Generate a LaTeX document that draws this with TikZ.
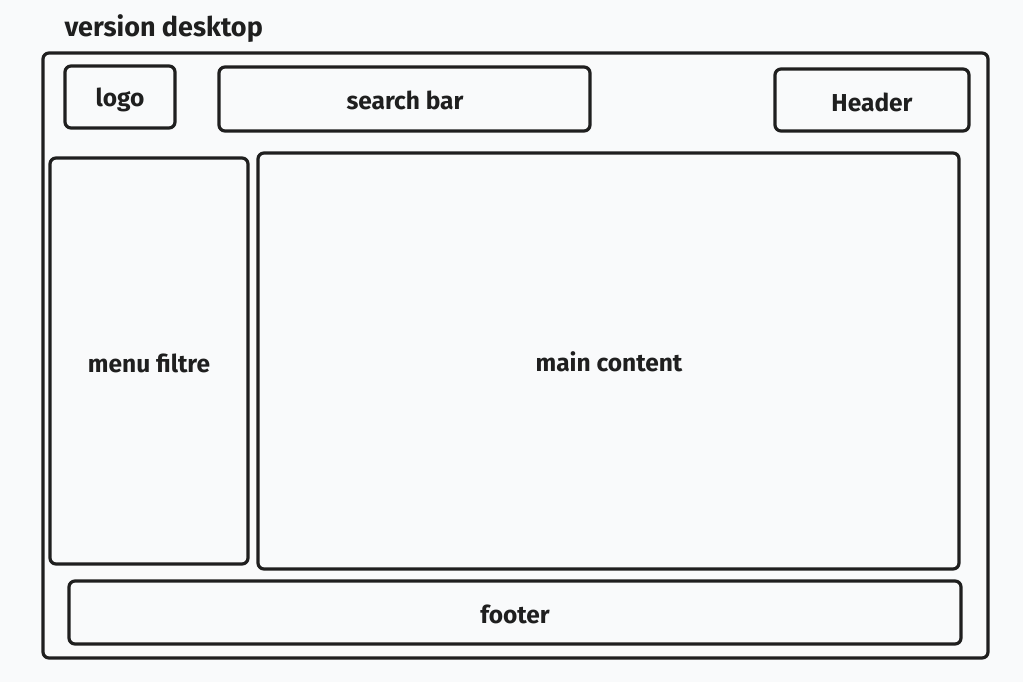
\documentclass[tikz,border=0pt]{standalone}
\usepackage{fontspec}
\setmainfont{Fira Sans}
\begin{document}
\begin{tikzpicture}[x=1pt,y=-1pt,
  frame/.style={draw=black!88,line width=3.2pt,rounded corners=6pt},
  lbl/.style={font=\fontsize{24.5}{28}\selectfont\bfseries, text=black!88}]
\useasboundingbox[fill={rgb,255:red,249;green,250;blue,251}] (0,0) rectangle (1023,682);
\node[lbl,anchor=west,font=\fontsize{27}{30}\selectfont\bfseries] (title) at (61,29) {version desktop};
\draw[frame] (43,53) rectangle (988,658);
\draw[frame] (65,66) rectangle (175,128);
\node[lbl] (logo) at (120,100) {logo};
\draw[frame] (219,67) rectangle (590,131);
\node[lbl] (search) at (405,100) {search bar};
\draw[frame] (775,69) rectangle (969,131);
\node[lbl] (header) at (872,102) {Header};
\draw[frame] (50,158) rectangle (248,564);
\node[lbl] (menu) at (149,363) {menu filtre};
\draw[frame] (258,153) rectangle (959,569);
\node[lbl] (main) at (609,362) {main content};
\draw[frame] (69,581) rectangle (961,644);
\node[lbl] (footer) at (515,614) {footer};
\end{tikzpicture}
\end{document}
